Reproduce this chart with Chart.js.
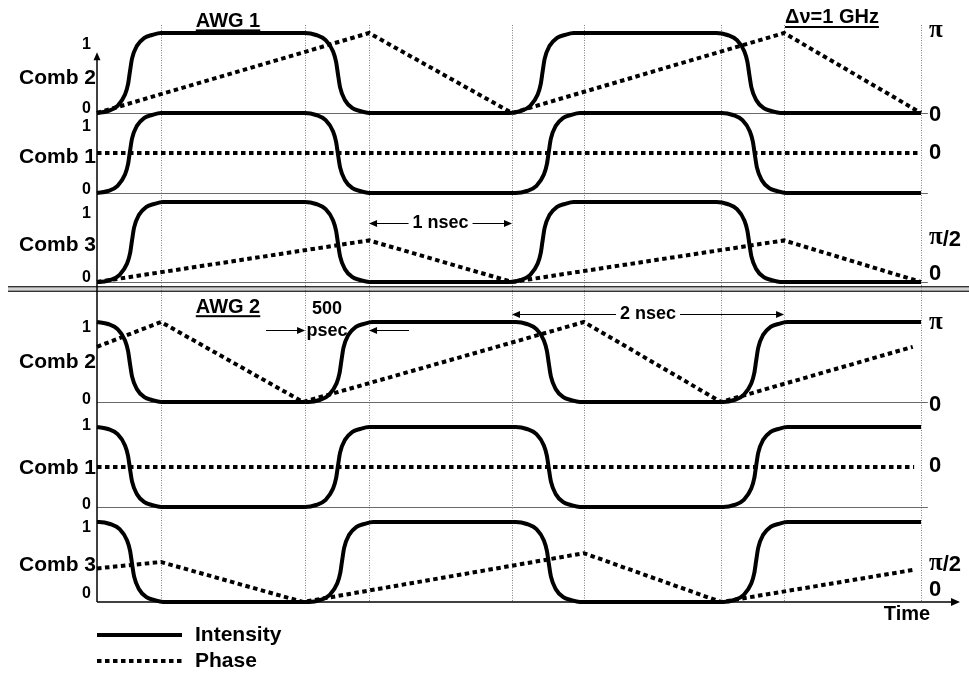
<!DOCTYPE html>
<html>
<head>
<meta charset="utf-8">
<script src="https://cdn.jsdelivr.net/npm/chart.js@4.4.1/dist/chart.umd.min.js"></script>
<style>
  html, body { margin: 0; padding: 0; background: #ffffff; }
  canvas { display: block; }
</style>
</head>
<body>
<canvas id="chart" width="969" height="673"></canvas>
<script>
// Time axis in picoseconds; each panel has its own 0..1 intensity scale.
const panelIds   = ['awg1c2', 'awg1c1', 'awg1c3', 'awg2c2', 'awg2c1', 'awg2c3'];
const combNames  = ['Comb 2', 'Comb 1', 'Comb 3', 'Comb 2', 'Comb 1', 'Comb 3'];
const levelTicks = ['0', '1'];
const phaseTicks = [['π', '0'], ['0'], ['π/2', '0'], ['π', '0'], ['0'], ['π/2', '0']];
const groupTitles = ['AWG 1', 'AWG 2'];
const rateLabel   = 'Δν=1 GHz';
const spanLabels  = ['1 nsec', '2 nsec'];
const legendLabels = ['Intensity', 'Phase'];

// Dotted time markers (ps)
const markerTimes = [466, 1515, 1981, 3022, 3546, 4544, 5003, 6000];

// Intensity traces [time ps, normalised intensity]
const awg1c2Int = [
  [0,0],[80,0.025],[150,0.09],[204,0.23],[226,0.36],[240,0.52],[255,0.68],[291,0.84],[345,0.94],[400,0.975],[466,1],
  [1515,1],[1595,0.975],[1665,0.91],[1719,0.77],[1741,0.64],[1755,0.48],[1770,0.32],[1806,0.16],[1860,0.06],[1915,0.025],[1981,0],
  [3005,0],[3085,0.025],[3155,0.09],[3209,0.23],[3231,0.36],[3245,0.52],[3260,0.68],[3296,0.84],[3350,0.94],[3405,0.975],[3471,1],
  [4510,1],[4590,0.975],[4660,0.91],[4714,0.77],[4736,0.64],[4750,0.48],[4765,0.32],[4801,0.16],[4855,0.06],[4910,0.025],[4976,0],
  [6000,0]
];
const awg1c1Int = [
  [0,0],[80,0.025],[150,0.09],[204,0.23],[226,0.36],[240,0.52],[255,0.68],[291,0.84],[345,0.94],[400,0.975],[466,1],
  [1515,1],[1595,0.975],[1665,0.91],[1719,0.77],[1741,0.64],[1755,0.48],[1770,0.32],[1806,0.16],[1860,0.06],[1915,0.025],[1981,0],
  [3050,0],[3130,0.025],[3200,0.09],[3254,0.23],[3276,0.36],[3290,0.52],[3305,0.68],[3341,0.84],[3395,0.94],[3450,0.975],[3516,1],
  [4550,1],[4630,0.975],[4700,0.91],[4754,0.77],[4776,0.64],[4790,0.48],[4805,0.32],[4841,0.16],[4895,0.06],[4950,0.025],[5016,0],
  [6000,0]
];
const awg1c3Int = [
  [0,0],[15,0],[95,0.025],[165,0.09],[219,0.23],[241,0.36],[255,0.52],[270,0.68],[306,0.84],[360,0.94],[415,0.975],[481,1],
  [1515,1],[1595,0.975],[1665,0.91],[1719,0.77],[1741,0.64],[1755,0.48],[1770,0.32],[1806,0.16],[1860,0.06],[1915,0.025],[1981,0],
  [3005,0],[3085,0.025],[3155,0.09],[3209,0.23],[3231,0.36],[3245,0.52],[3260,0.68],[3296,0.84],[3350,0.94],[3405,0.975],[3471,1],
  [4510,1],[4590,0.975],[4660,0.91],[4714,0.77],[4736,0.64],[4750,0.48],[4765,0.32],[4801,0.16],[4855,0.06],[4910,0.025],[4976,0],
  [6000,0]
];
const awg2c2Int = [
  [0,1],[80,0.975],[150,0.91],[204,0.77],[226,0.64],[240,0.48],[255,0.32],[291,0.16],[345,0.06],[400,0.025],[466,0],
  [1540,0],[1620,0.025],[1690,0.09],[1744,0.23],[1766,0.36],[1780,0.52],[1795,0.68],[1831,0.84],[1885,0.94],[1940,0.975],[2006,1],
  [3050,1],[3130,0.975],[3200,0.91],[3254,0.77],[3276,0.64],[3290,0.48],[3305,0.32],[3341,0.16],[3395,0.06],[3450,0.025],[3516,0],
  [4560,0],[4640,0.025],[4710,0.09],[4764,0.23],[4786,0.36],[4800,0.52],[4815,0.68],[4851,0.84],[4905,0.94],[4960,0.975],[5026,1],
  [6000,1]
];
const awg2c1Int = [
  [0,1],[80,0.975],[150,0.91],[204,0.77],[226,0.64],[240,0.48],[255,0.32],[291,0.16],[345,0.06],[400,0.025],[466,0],
  [1515,0],[1595,0.025],[1665,0.09],[1719,0.23],[1741,0.36],[1755,0.52],[1770,0.68],[1806,0.84],[1860,0.94],[1915,0.975],[1981,1],
  [3050,1],[3130,0.975],[3200,0.91],[3254,0.77],[3276,0.64],[3290,0.48],[3305,0.32],[3341,0.16],[3395,0.06],[3450,0.025],[3516,0],
  [4560,0],[4640,0.025],[4710,0.09],[4764,0.23],[4786,0.36],[4800,0.52],[4815,0.68],[4851,0.84],[4905,0.94],[4960,0.975],[5026,1],
  [6000,1]
];
const awg2c3Int = [
  [0,1],[15,1],[95,0.975],[165,0.91],[219,0.77],[241,0.64],[255,0.48],[270,0.32],[306,0.16],[360,0.06],[415,0.025],[481,0],
  [1545,0],[1625,0.025],[1695,0.09],[1749,0.23],[1771,0.36],[1785,0.52],[1800,0.68],[1836,0.84],[1890,0.94],[1945,0.975],[2011,1],
  [3050,1],[3130,0.975],[3200,0.91],[3254,0.77],[3276,0.64],[3290,0.48],[3305,0.32],[3341,0.16],[3395,0.06],[3450,0.025],[3516,0],
  [4560,0],[4640,0.025],[4710,0.09],[4764,0.23],[4786,0.36],[4800,0.52],[4815,0.68],[4851,0.84],[4905,0.94],[4960,0.975],[5026,1],
  [6000,1]
];

// Phase traces [time ps, level within the panel]
const awg1c2Phase = [[0,0],[1981,1],[3022,0],[5003,1],[6000,0]];
const awg1c1Phase = [[0,0.5],[6000,0.5]];
const awg1c3Phase = [[0,0],[1981,0.52],[3022,0],[5003,0.52],[6000,0]];
const awg2c2Phase = [[0,0.69],[466,1],[1500,0],[3546,1],[4544,0],[5940,0.69]];
const awg2c1Phase = [[0,0.5],[5950,0.5]];
const awg2c3Phase = [[0,0.42],[466,0.5],[1500,0],[3546,0.61],[4544,0],[5940,0.4]];

const intensitySeries = [awg1c2Int, awg1c1Int, awg1c3Int, awg2c2Int, awg2c1Int, awg2c3Int];
const phaseSeries = [awg1c2Phase, awg1c1Phase, awg1c3Phase, awg2c2Phase, awg2c1Phase, awg2c3Phase];

// ---- layout ----
const AREA_TOP = 25, AREA_BOTTOM = 602, UNIT_PX = 80;
const panelBasePx = [113, 193, 282, 402, 507, 602];
const TIME_MAX = 6284;
const FONT = '"Liberation Sans", Arial, Helvetica, sans-serif';
const SERIF = '"Liberation Serif", "Times New Roman", serif';

// label placement, in panel levels
const nameLevel = [0.44, 0.45, 0.46, 0.5, 0.49, 0.46];
const oneLevel  = [0.85, 0.825, 0.86, 0.925, 1.02, 0.925];
const zeroLevel = [0.06, 0.04, 0.05, 0.025, 0.025, 0.11];
const phaseTickLevel = [[1.0, -0.02], [0.5], [0.53, 0.1], [0.97, -0.04], [0.51], [0.46, 0.15]];

const yScales = {};
panelIds.forEach((id, i) => {
  const min = -(AREA_BOTTOM - panelBasePx[i]) / UNIT_PX;
  yScales[id] = { type: 'linear', display: false, min: min, max: min + (AREA_BOTTOM - AREA_TOP) / UNIT_PX };
});

const datasets = [];
panelIds.forEach((id, i) => {
  datasets.push({
    label: legendLabels[0] + ' ' + id,
    data: intensitySeries[i].map(p => ({ x: p[0], y: p[1] })),
    yAxisID: id,
    borderColor: '#000000',
    borderWidth: 4,
    pointRadius: 0,
    cubicInterpolationMode: 'monotone',
    borderJoinStyle: 'round',
    fill: false,
    clip: false
  });
  datasets.push({
    label: legendLabels[1] + ' ' + id,
    data: phaseSeries[i].map(p => ({ x: p[0], y: p[1] })),
    yAxisID: id,
    borderColor: '#000000',
    borderWidth: 4,
    borderDash: [4.5, 3.5],
    pointRadius: 0,
    tension: 0,
    fill: false,
    clip: false
  });
});

function arrowHead(ctx, x, y, dx, dy, len, half) {
  ctx.beginPath();
  ctx.moveTo(x, y);
  ctx.lineTo(x - dx * len - dy * half, y - dy * len + dx * half);
  ctx.lineTo(x - dx * len + dy * half, y - dy * len - dx * half);
  ctx.closePath();
  ctx.fill();
}
function hLine(ctx, x0, x1, y) {
  ctx.beginPath(); ctx.moveTo(x0, y); ctx.lineTo(x1, y); ctx.stroke();
}
function vLine(ctx, x, y0, y1) {
  ctx.beginPath(); ctx.moveTo(x, y0); ctx.lineTo(x, y1); ctx.stroke();
}
function phaseText(ctx, text, x, y) {
  if (text.charAt(0) === 'π') {
    ctx.font = 'bold 25px ' + SERIF;
    ctx.fillText('π', x, y - 2);
    const w = ctx.measureText('π').width;
    if (text.length > 1) {
      ctx.font = 'bold 22px ' + FONT;
      ctx.fillText(text.slice(1), x + w, y);
    }
  } else {
    ctx.font = 'bold 22px ' + FONT;
    ctx.fillText(text, x, y);
  }
}

const decor = {
  id: 'decor',
  beforeDatasetsDraw(chart) {
    const ctx = chart.ctx, xs = chart.scales.x, area = chart.chartArea;
    const x0 = xs.getPixelForValue(0);
    ctx.save();
    // dotted time markers
    ctx.strokeStyle = '#808080';
    ctx.lineWidth = 1;
    ctx.setLineDash([1, 1.5]);
    markerTimes.forEach(t => {
      const px = Math.round(xs.getPixelForValue(t)) + 0.5;
      vLine(ctx, px, area.top, area.bottom);
    });
    ctx.setLineDash([]);
    // zero lines of the panels
    ctx.strokeStyle = '#6a6a6a';
    ctx.lineWidth = 1;
    const baseEnd = xs.getPixelForValue(6050);
    panelIds.forEach((id, i) => {
      if (i === panelIds.length - 1) return;
      const py = Math.round(chart.scales[id].getPixelForValue(0)) + 0.5;
      hLine(ctx, x0, baseEnd, py);
    });
    // separator between the two AWG groups
    const sep = Math.round(chart.scales.awg1c3.getPixelForValue(0)) + 4;
    ctx.lineWidth = 1.6;
    ctx.strokeStyle = '#333333'; hLine(ctx, 8, 969, sep + 0.8);
    ctx.lineWidth = 1.2;
    ctx.strokeStyle = '#a8a8a8'; hLine(ctx, 8, 969, sep + 3);
    ctx.lineWidth = 1.6;
    ctx.strokeStyle = '#333333'; hLine(ctx, 8, 969, sep + 5.2);
    // vertical axis with arrow
    ctx.strokeStyle = '#000000';
    ctx.fillStyle = '#000000';
    ctx.lineWidth = 1.5;
    const topY = chart.scales.awg1c2.getPixelForValue(0.76);
    vLine(ctx, x0, topY + 5, area.bottom);
    arrowHead(ctx, x0, topY, 0, -1, 8, 3.5);
    // time axis with arrow
    hLine(ctx, x0, area.right - 6, area.bottom);
    arrowHead(ctx, area.right, area.bottom, 1, 0, 9, 4);
    ctx.restore();
  },
  afterDraw(chart) {
    const ctx = chart.ctx, xs = chart.scales.x, area = chart.chartArea;
    const x0 = xs.getPixelForValue(0);
    ctx.save();
    ctx.fillStyle = '#000000';
    ctx.strokeStyle = '#000000';
    ctx.textBaseline = 'middle';

    // left labels
    panelIds.forEach((id, i) => {
      const s = chart.scales[id];
      ctx.textAlign = 'right';
      ctx.font = 'bold 21px ' + FONT;
      ctx.fillText(combNames[i], x0 - 1, s.getPixelForValue(nameLevel[i]));
      ctx.font = 'bold 16px ' + FONT;
      ctx.fillText(levelTicks[1], x0 - 6, s.getPixelForValue(oneLevel[i]));
      ctx.fillText(levelTicks[0], x0 - 6, s.getPixelForValue(zeroLevel[i]));
      // right-hand phase ticks
      ctx.textAlign = 'left';
      phaseTicks[i].forEach((t, k) => {
        phaseText(ctx, t, 929, s.getPixelForValue(phaseTickLevel[i][k]));
      });
    });

    // group titles (underlined)
    ctx.textAlign = 'center';
    ctx.textBaseline = 'alphabetic';
    ctx.font = 'bold 20px ' + FONT;
    const titlePos = [[954, chart.scales.awg1c2, 1.07], [954, chart.scales.awg2c2, 1.11]];
    groupTitles.forEach((t, i) => {
      const cx = xs.getPixelForValue(titlePos[i][0]);
      const by = titlePos[i][1].getPixelForValue(titlePos[i][2]);
      ctx.fillText(t, cx, by);
      const w = ctx.measureText(t).width;
      ctx.fillRect(cx - w / 2, by + 2, w, 2);
    });
    // rate label
    ctx.textAlign = 'left';
    ctx.font = 'bold 20px ' + FONT;
    const rx = xs.getPixelForValue(5010), ry = chart.scales.awg1c2.getPixelForValue(1.125);
    ctx.fillText(rateLabel, rx, ry);
    ctx.fillRect(rx, ry + 3, ctx.measureText(rateLabel).width, 2);

    // span arrows
    ctx.textAlign = 'center';
    ctx.textBaseline = 'middle';
    ctx.font = 'bold 18px ' + FONT;
    ctx.lineWidth = 1;
    const spans = [[1981, 3022, chart.scales.awg1c3, 0.735], [3022, 5003, chart.scales.awg2c2, 1.1]];
    spans.forEach((sp, i) => {
      const a = xs.getPixelForValue(sp[0]), b = xs.getPixelForValue(sp[1]);
      const y = Math.round(sp[2].getPixelForValue(sp[3])) + 0.5;
      const c = (a + b) / 2, w = ctx.measureText(spanLabels[i]).width;
      ctx.fillText(spanLabels[i], c, y);
      hLine(ctx, a + 6, c - w / 2 - 4, y);
      hLine(ctx, c + w / 2 + 4, b - 6, y);
      arrowHead(ctx, a, y, -1, 0, 8, 3.5);
      arrowHead(ctx, b, y, 1, 0, 8, 3.5);
    });

    // 500 psec transition width
    const s2 = chart.scales.awg2c2;
    const tc = xs.getPixelForValue(1675);
    ctx.fillText('500', tc, s2.getPixelForValue(1.16));
    ctx.fillText('psec', tc, s2.getPixelForValue(0.89));
    const ay = Math.round(s2.getPixelForValue(0.9)) + 0.5;
    const pa = xs.getPixelForValue(1515), pb = xs.getPixelForValue(1981);
    hLine(ctx, pa - 39, pa - 6, ay);
    arrowHead(ctx, pa, ay, 1, 0, 8, 3.5);
    hLine(ctx, pb + 6, pb + 40, ay);
    arrowHead(ctx, pb, ay, -1, 0, 8, 3.5);

    // time label
    ctx.font = 'bold 20px ' + FONT;
    ctx.fillText('Time', xs.getPixelForValue(5898), chart.scales.awg2c3.getPixelForValue(-0.16));

    // legend
    const ds = chart.data.datasets;
    const lx0 = x0, lx1 = x0 + 85;
    const ly = [area.bottom + 33, area.bottom + 59];
    [ds[0], ds[1]].forEach((d, i) => {
      ctx.save();
      ctx.strokeStyle = d.borderColor;
      ctx.lineWidth = d.borderWidth;
      ctx.setLineDash(d.borderDash || []);
      hLine(ctx, lx0, lx1, ly[i]);
      ctx.restore();
      ctx.textAlign = 'left';
      ctx.font = 'bold 21px ' + FONT;
      ctx.fillText(legendLabels[i], x0 + 98, ly[i]);
    });
    ctx.restore();
  }
};

new Chart(document.getElementById('chart'), {
  type: 'line',
  data: { datasets: datasets },
  options: {
    responsive: false,
    devicePixelRatio: 1,
    animation: false,
    events: [],
    layout: { padding: { left: 97, right: 9, top: AREA_TOP, bottom: 673 - AREA_BOTTOM } },
    scales: Object.assign({
      x: { type: 'linear', display: false, min: 0, max: TIME_MAX }
    }, yScales),
    plugins: { legend: { display: false }, tooltip: { enabled: false } }
  },
  plugins: [decor]
});
</script>
</body>
</html>
